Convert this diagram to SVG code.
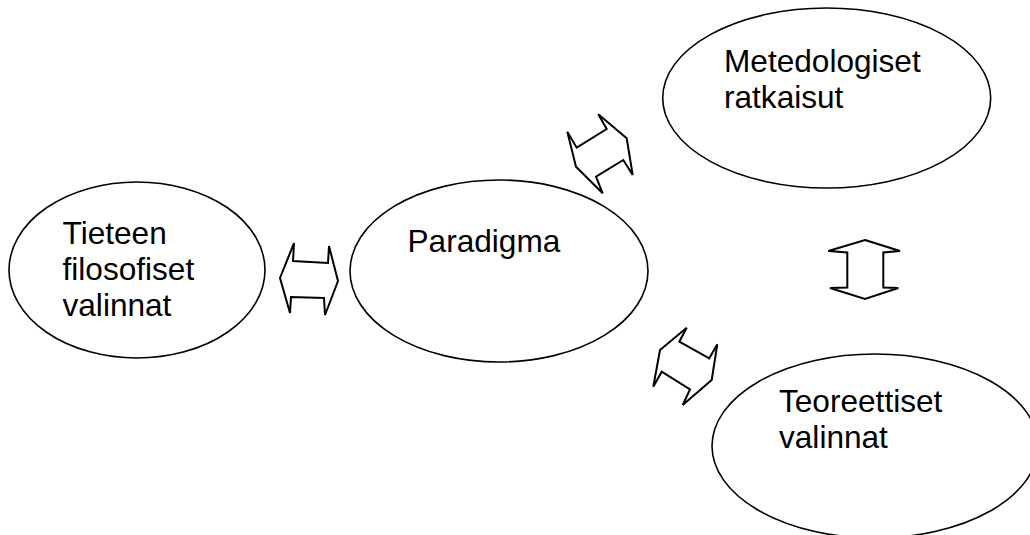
<svg xmlns="http://www.w3.org/2000/svg" width="1030" height="535" viewBox="0 0 1030 535">
  <style>
    .node { fill: #ffffff; stroke: #000000; stroke-width: 1.6; }
    .arrow { fill: #ffffff; stroke: #000000; stroke-width: 2; stroke-linejoin: miter; }
    .label { font-family: "Liberation Sans", Arial, sans-serif; font-size: 31.6px; fill: #000000; }
  </style>
  <rect width="1030" height="535" fill="#ffffff"/>

  <!-- double-headed arrows between the ovals -->
  <g id="connectors">
    <polygon class="arrow" points="280,278 294,243 293,261 328,263 329,246 338,281 325,315 324,298 291,297 290,313"/>
    <polygon class="arrow" points="576,166.7 567.3,131.7 576.7,147.7 606.7,129 598.3,114.3 626.7,138.3 632.7,175 623.3,160 596,176.7 602.7,193.3"/>
    <polygon class="arrow" points="660,350 653.3,386.7 661.7,371.7 690,389.3 682.7,405 711.7,380 717.3,344.3 709.3,358.3 679.3,341.7 686.7,327.7"/>
    <polygon class="arrow" points="865,240 900,251 883.3,252.5 883.3,287.5 898.3,288 865,299 830,288 847.3,287.5 847.3,252.5 828.3,251"/>
  </g>

  <g id="node-tieteen">
    <ellipse class="node" cx="137" cy="270" rx="128" ry="88"/>
    <text class="label" x="62.5" y="244">Tieteen</text>
    <text class="label" x="62.5" y="280">filosofiset</text>
    <text class="label" x="62.5" y="316">valinnat</text>
  </g>

  <g id="node-paradigma">
    <ellipse class="node" cx="499" cy="271" rx="149" ry="91"/>
    <text class="label" x="407.5" y="251.5">Paradigma</text>
  </g>

  <g id="node-metedologiset">
    <ellipse class="node" cx="826.7" cy="98" rx="164" ry="90"/>
    <text class="label" x="724" y="71.7">Metedologiset</text>
    <text class="label" x="724" y="108.3">ratkaisut</text>
  </g>

  <g id="node-teoreettiset">
    <ellipse class="node" cx="875" cy="446" rx="163" ry="92"/>
    <text class="label" x="779" y="411.7">Teoreettiset</text>
    <text class="label" x="779" y="448.3">valinnat</text>
  </g>
</svg>
